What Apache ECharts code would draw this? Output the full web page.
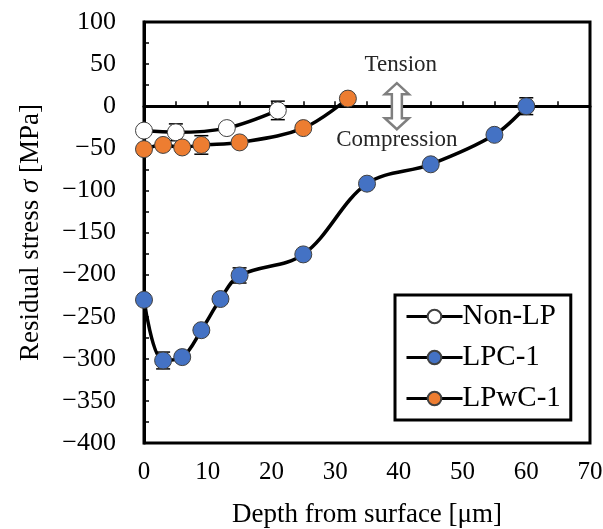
<!DOCTYPE html>
<html>
<head>
<meta charset="utf-8">
<script src="https://cdn.jsdelivr.net/npm/echarts@6/dist/echarts.min.js"></script>
<style>
  html, body { margin: 0; padding: 0; background: #fff; }
  #chart { width: 603px; height: 529px; }
</style>
</head>
<body>
<div id="chart"></div>
<script>
const nonLpDepth = [0, 5, 13, 21]
const nonLpStress = [-29, -31, -26, -5]
const nonLpErr = [0, 10, 0, 11]

const lpcDepth = [0, 3, 6, 9, 12, 15, 25, 35, 45, 55, 60]
const lpcStress = [-230, -302, -298, -266, -229, -201, -176, -92, -69, -34, 0]
const lpcErr = [0, 10, 0, 0, 0, 9, 0, 0, 0, 0, 10]

const lpwcDepth = [0, 3, 6, 9, 15, 25, 32]
const lpwcStress = [-51, -46, -49, -46, -43, -26, 9]
const lpwcErr = [0, 0, 0, 11, 0, 0, 0]

const xTicks = [0, 10, 20, 30, 40, 50, 60, 70]
const yTicks = [-400, -350, -300, -250, -200, -150, -100, -50, 0, 50, 100]

const font = 'Liberation Serif, Times New Roman, serif'

const zip = (xs, ys) => xs.map((x, i) => [x, ys[i]])
const errData = (xs, ys, es) =>
  xs.map((x, i) => [x, ys[i], es[i]]).filter((d) => d[2] > 0)

const errSeries = (name, data) => ({
  name: name + '-err',
  type: 'custom',
  data,
  z: 3,
  silent: true,
  renderItem: (params, api) => {
    const x = api.value(0)
    const y = api.value(1)
    const e = api.value(2)
    const top = api.coord([x, y + e])
    const bot = api.coord([x, y - e])
    const w = 7
    const style = { stroke: '#000', lineWidth: 1.5 }
    return {
      type: 'group',
      children: [
        { type: 'line', shape: { x1: top[0], y1: top[1], x2: bot[0], y2: bot[1] }, style },
        { type: 'line', shape: { x1: top[0] - w, y1: top[1], x2: top[0] + w, y2: top[1] }, style },
        { type: 'line', shape: { x1: bot[0] - w, y1: bot[1], x2: bot[0] + w, y2: bot[1] }, style },
      ],
    }
  },
})

const lineSeries = (name, data, color) => ({
  name,
  type: 'line',
  data,
  smooth: 0.35,
  z: 5,
  symbol: 'circle',
  symbolSize: 17,
  lineStyle: { color: '#000', width: 3.5 },
  itemStyle: { color, borderColor: '#404040', borderWidth: 1 },
})

const chart = echarts.init(document.getElementById('chart'))

const option = {
  animation: false,
  grid: {
    left: 144,
    right: 13,
    top: 22,
    bottom: 86,
    outerBoundsMode: 'none',
    containLabel: false,
    show: true,
    borderColor: '#000',
    borderWidth: 3,
  },
  legend: {
    orient: 'vertical',
    left: 395,
    top: 295,
    data: ['Non-LP', 'LPC-1', 'LPwC-1'],
    borderColor: '#000',
    borderWidth: 3,
    padding: [7, 10, 7, 10],
    itemGap: 12,
    itemWidth: 56,
    itemHeight: 17,
    lineStyle: { width: 3, color: '#000' },
    textStyle: { fontFamily: font, fontSize: 29, color: '#000', padding: [0, 0, 0, -5] },
  },
  xAxis: {
    type: 'value',
    min: xTicks[0],
    max: xTicks[xTicks.length - 1],
    interval: 10,
    name: 'Depth from surface [μm]',
    nameLocation: 'middle',
    nameGap: 58,
    nameTextStyle: { fontFamily: font, fontSize: 27, color: '#000' },
    axisLine: { lineStyle: { color: '#000', width: 3 } },
    axisTick: { inside: true, length: 5, lineStyle: { color: '#000', width: 1.5 } },
    minorTick: { show: true, splitNumber: 2, length: 5, lineStyle: { color: '#000', width: 1.5 } },
    splitLine: { show: false },
    axisLabel: { fontFamily: font, fontSize: 25, color: '#000', margin: 17 },
  },
  yAxis: {
    type: 'value',
    min: yTicks[0],
    max: yTicks[yTicks.length - 1],
    interval: 50,
    name: 'Residual stress {i|σ} [MPa]',
    nameLocation: 'middle',
    nameRotate: 90,
    nameGap: 100,
    nameTextStyle: {
      fontFamily: font,
      fontSize: 27,
      color: '#000',
      rich: { i: { fontFamily: font, fontSize: 27, fontStyle: 'italic', color: '#000' } },
    },
    axisLine: { lineStyle: { color: '#000', width: 3 } },
    axisTick: { inside: true, length: 5, lineStyle: { color: '#000', width: 1.5 } },
    minorTick: { show: true, splitNumber: 2, length: 5, lineStyle: { color: '#000', width: 1.5 } },
    splitLine: { show: false },
    axisLabel: {
      fontFamily: font,
      fontSize: 26,
      color: '#000',
      margin: 28,
      formatter: (v) => String(v).replace('-', '\u2212'),
    },
  },
  series: [
    errSeries('Non-LP', errData(nonLpDepth, nonLpStress, nonLpErr)),
    errSeries('LPC-1', errData(lpcDepth, lpcStress, lpcErr)),
    errSeries('LPwC-1', errData(lpwcDepth, lpwcStress, lpwcErr)),
    {
      ...lineSeries('Non-LP', zip(nonLpDepth, nonLpStress), '#ffffff'),
      markLine: {
        silent: true,
        symbol: 'none',
        label: { show: false },
        lineStyle: { color: '#000', width: 1.5, type: 'solid' },
        data: [{ yAxis: 0 }],
      },
    },
    lineSeries('LPC-1', zip(lpcDepth, lpcStress), '#4472C4'),
    lineSeries('LPwC-1', zip(lpwcDepth, lpwcStress), '#ED7D31'),
  ],
}

chart.setOption(option)

// Tension / Compression annotation with a hollow double arrow at depth 40
const c = chart.convertToPixel({ gridIndex: 0 }, [40, 0])
const ax = c[0] - 2
const ay = c[1]
const hw = 12
const sw = 5
const hh = 11
const half = 23
const arrowPts = [
  [ax, ay - half],
  [ax + hw, ay - half + hh],
  [ax + sw, ay - half + hh],
  [ax + sw, ay + half - hh],
  [ax + hw, ay + half - hh],
  [ax, ay + half],
  [ax - hw, ay + half - hh],
  [ax - sw, ay + half - hh],
  [ax - sw, ay - half + hh],
  [ax - hw, ay - half + hh],
]

chart.setOption({
  graphic: [
    {
      type: 'polygon',
      z: 10,
      shape: { points: arrowPts },
      style: { fill: '#fff', stroke: '#7f7f7f', lineWidth: 2.5 },
    },
    {
      type: 'text',
      z: 10,
      x: ax + 4,
      y: ay - 41,
      style: {
        text: 'Tension',
        font: '23px ' + font,
        fill: '#262626',
        align: 'center',
        verticalAlign: 'middle',
      },
    },
    {
      type: 'text',
      z: 10,
      x: ax,
      y: ay + 34,
      style: {
        text: 'Compression',
        font: '23px ' + font,
        fill: '#262626',
        align: 'center',
        verticalAlign: 'middle',
      },
    },
  ],
})
</script>
</body>
</html>
